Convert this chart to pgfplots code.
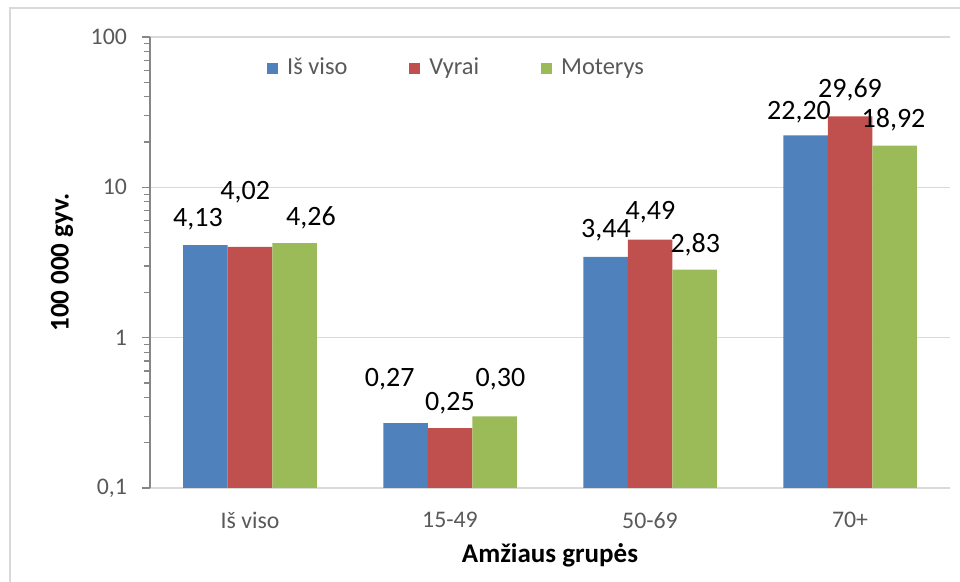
\documentclass[border=0pt]{standalone}
\usepackage{fontspec}
\setmainfont{Carlito}
\usepackage{pgfplots}
\usepackage{pgfplotstable}
\pgfplotsset{compat=1.18}

\definecolor{cblue}{HTML}{4F81BD}
\definecolor{cred}{HTML}{C0504D}
\definecolor{cgreen}{HTML}{9BBB59}
\definecolor{gridgray}{HTML}{D9D9D9}
\definecolor{axisgray}{HTML}{868686}
\definecolor{textgray}{HTML}{595959}

% x = group, y = value, dx/dy = label offset (pt) from bar top
\pgfplotstableread{
x y dx dy
0 4.13 -3.75 13
1 0.27 -7.9 22
2 3.44 0.2 13.25
3 22.20 -3.25 11.5
}\isviso
\pgfplotstableread{
x y dx dy
0 4.02 -2.4 27.5
1 0.25 0 12.5
2 4.49 0.2 13.5
3 29.69 0 13
}\vyrai
\pgfplotstableread{
x y dx dy
0 4.26 8.2 12.75
1 0.30 3 18.3
2 2.83 0.4 12.5
3 18.92 -0.5 13
}\moterys

\begin{document}
\begin{tikzpicture}
\useasboundingbox (0,0) rectangle (480pt,291pt);
\draw[gridgray, line width=1pt] (5pt,-1pt) -- (5pt,287pt) -- (481pt,287pt);
\begin{axis}[
    at={(75pt,47pt)}, anchor=south west,
    scale only axis,
    width=400pt, height=225.5pt,
    ymode=log, log origin=infty,
    ymin=0.1, ymax=100,
    xmin=-0.5, xmax=3.5,
    ybar=0pt, bar width=22.25pt,
    xtick={0,1,2,3},
    xticklabels={Iš viso,15-49,50-69,70+},
    ytick={0.1,1,10,100},
    yticklabels={{0,1},1,10,100},
    minor ytick={},
    ymajorgrids,
    grid style={gridgray, line width=0.6pt},
    axis lines*=left,
    x axis line style={gridgray, line width=0.6pt},
    y axis line style={axisgray, line width=0.6pt},
    xtick style={draw=none},
    ytick style={axisgray, line width=0.6pt},
    tick align=outside,
    major tick length=4pt,
    ticklabel style={font=\fontsize{11.9}{13}\selectfont, text=textgray},
    yticklabel style={xshift=-4pt},
    xticklabel style={yshift=-4.5pt},
    xlabel={Amžiaus grupės},
    ylabel={100 000 gyv.},
    label style={font=\fontsize{13.5}{15}\selectfont\bfseries},
    xlabel style={at={(axis description cs:0.5,0)}, anchor=center, yshift=-33.5pt},
    ylabel style={at={(axis description cs:-0.11,0.5)}, anchor=center},
    legend columns=3,
    legend style={at={(axis description cs:0.146,0.931)}, anchor=west,
        draw=none, fill=none, inner sep=0pt,
        font=\fontsize{12.2}{13}\selectfont, text=textgray,
        /tikz/every odd column/.append style={column sep=2.5pt},
        /tikz/every even column/.append style={column sep=29pt}},
    point meta=rawy,
    nodes near coords={\pgfmathprintnumber[fixed,fixed zerofill,precision=2,use comma,assume math mode=true]{\pgfplotspointmeta}},
    visualization depends on={\thisrow{dx}\as\dx},
    visualization depends on={\thisrow{dy}\as\dy},
    every node near coord/.append style={anchor=center, xshift=\dx pt, yshift=\dy pt,
        font=\fontsize{14}{16}\selectfont, text=black},
    sqlegend/.style={legend image code/.code={\fill[##1] (0pt,-2.75pt) rectangle (5.5pt,2.75pt);}},
]
\addplot[fill=cblue, draw=none, sqlegend] table[x=x, y=y] {\isviso};
\addlegendentry{Iš viso}
\addplot[fill=cred, draw=none, sqlegend] table[x=x, y=y] {\vyrai};
\addlegendentry{Vyrai}
\addplot[fill=cgreen, draw=none, sqlegend] table[x=x, y=y] {\moterys};
\addlegendentry{Moterys}
\end{axis}
\end{tikzpicture}
\end{document}
